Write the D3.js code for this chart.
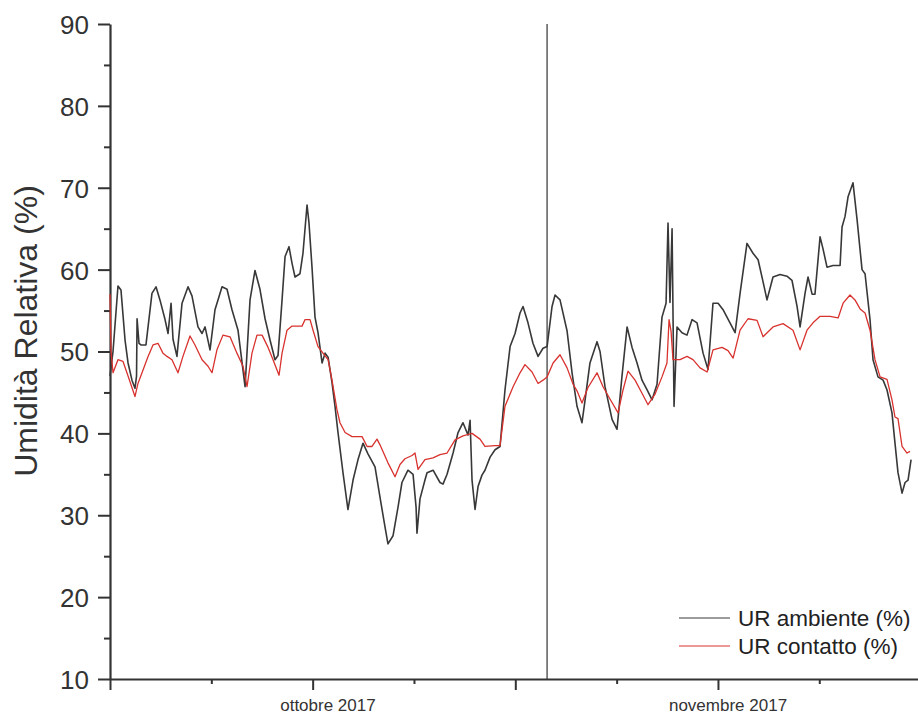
<!DOCTYPE html>
<html lang="it">
<head>
<meta charset="UTF-8">
<title>Umidità Relativa</title>
<style>
  body { margin: 0; background: #fff; }
  svg { display: block; font-family: "Liberation Sans", Arial, sans-serif; }
  .axis path, .axis line { stroke: #333; }
  .axis text { fill: #333; }
</style>
</head>
<body>
<svg width="918" height="717"></svg>
<script src="https://d3js.org/d3.v7.min.js"></script>
<script>
// x values: days since 1 Oct 2017
var ambDays = [0.00,0.23,0.61,0.84,1.15,1.38,1.68,1.91,2.03,2.07,2.22,2.37,2.75,3.21,3.52,3.82,4.21,4.44,4.67,4.82,
  5.12,5.51,5.97,6.27,6.73,7.04,7.27,7.65,8.03,8.57,8.95,9.33,9.79,10.33,10.71,11.09,11.47,11.86,12.24,12.62,
  12.85,13.16,13.39,13.69,13.92,14.15,14.53,14.76,15.07,15.22,15.45,15.68,15.91,16.22,16.45,16.68,16.98,17.21,17.44,17.82,
  18.20,18.59,18.97,19.35,19.73,20.27,20.65,21.03,21.26,21.65,22.03,22.33,22.79,23.18,23.41,23.48,23.71,24.09,24.25,24.71,
  25.24,25.47,25.78,26.24,26.62,27.00,27.38,27.54,27.69,27.92,28.15,28.45,28.68,29.07,29.45,29.83,30.21,30.60,30.98,31.36,
  31.59,31.97,32.35,32.74,33.12,33.43,33.81,34.04,34.42,34.96,35.34,35.72,36.10,36.33,36.71,37.25,37.48,37.86,38.40,38.78,
  39.16,39.55,39.93,40.31,40.69,41.08,41.46,41.84,42.22,42.53,42.68,42.83,42.99,43.14,43.37,43.75,44.13,44.52,44.90,45.36,
  45.74,46.12,46.51,46.89,47.42,47.81,48.19,48.72,49.18,49.57,49.95,50.25,50.71,51.25,51.78,52.16,52.55,52.78,53.16,53.39,
  53.70,53.92,54.31,54.54,54.84,55.30,55.84,55.99,56.22,56.45,56.83,57.14,57.52,57.75,58.13,58.36,58.74,59.13,59.43,59.81,
  60.04,60.27,60.58,60.81,61.04,61.27];
var urAmbiente = [47,50,58,57.5,51.4,48.6,46.5,45.5,47,54,51,50.8,50.8,57.1,57.9,56.3,53.9,52.2,55.9,51.5,
  49.4,55.9,57.9,56.8,53,52.2,53,50.2,55.1,57.9,57.6,55.1,52.6,45.7,56.3,59.9,57.6,54,51.4,49,
  49.5,56.3,61.6,62.8,60.8,59.1,59.5,62,67.9,65.7,60.3,54.2,52.3,48.6,49.8,49.3,46.2,43.3,40.1,35.2,
  30.7,34.3,36.8,38.8,37.5,35.9,32.2,28.6,26.5,27.5,31,34,35.5,35,31,27.8,32,34.3,35.2,35.5,
  34,33.8,35,37.6,40.1,41.3,39.8,41.6,34.3,30.7,33.5,34.9,35.5,37.1,38,38.4,45.3,50.6,52.2,54.7,
  55.5,53.5,51,49.4,50.4,50.6,55.5,56.9,56.3,52.5,47.4,43.3,41.3,44,48.6,51.2,50,45.7,41.7,40.5,
  47,53,50.5,48.6,46.5,45.3,44.1,46,54.2,55.9,65.7,56,65,43.3,53,52.3,52,53.9,53.5,49.8,
  47.8,55.9,55.9,55.1,53.5,52.3,57.1,63.2,62,61.2,58.5,56.3,59.1,59.4,59.2,58.7,55.5,53,57.1,59.1,
  57,57,64,62.5,60.3,60.5,60.5,65.2,66.5,68.9,70.6,66.1,60,59.5,53.9,49,46.9,46.5,45.3,42.5,
  38.8,35.2,32.7,34,34.3,36.8];

var conDays = [0.00,0.08,0.23,0.61,0.99,1.38,1.91,2.14,2.52,2.91,3.29,3.67,4.05,4.36,4.74,5.20,5.58,6.12,6.50,7.04,
  7.50,7.80,8.18,8.64,9.18,9.71,10.17,10.48,10.86,11.24,11.63,12.09,12.47,12.93,13.16,13.54,13.92,14.69,14.92,15.30,
  15.53,15.91,16.29,16.68,16.98,17.36,17.59,17.98,18.51,19.28,19.66,20.04,20.42,20.65,21.26,21.80,22.18,22.56,23.10,23.33,
  23.56,24.09,24.71,25.24,25.78,26.39,27.00,27.69,28.30,28.68,29.45,29.83,30.21,30.83,31.36,31.74,32.28,32.74,33.12,33.43,
  33.89,34.42,34.96,35.42,35.72,36.10,36.56,37.25,37.71,38.24,38.86,39.24,39.62,40.16,40.69,41.15,41.69,42.22,42.60,42.76,
  42.91,43.06,43.60,44.13,44.59,45.13,45.67,46.12,46.81,47.27,47.66,48.19,48.80,49.49,49.95,50.71,51.48,52.24,52.78,53.31,
  53.77,54.31,55.07,55.69,56.07,56.60,56.98,57.37,57.75,58.13,58.51,58.90,59.43,59.81,60.04,60.27,60.58,60.96,61.19];
var urContatto = [57,50,47.4,49,48.8,47,44.5,46.1,47.7,49.4,50.8,51,49.8,49.4,49,47.4,49.4,51.9,50.8,49,
  48.2,47.4,50.2,52,51.8,49.8,48.2,45.7,49.8,52,52,50.5,49,47.1,49.8,52.6,53.1,53.1,53.9,53.9,
  52.6,50.6,49.8,49,46.5,42.9,41.3,40.1,39.6,39.6,38.4,38.4,39.3,38.6,36.4,34.7,36.2,36.9,37.3,37.6,
  35.6,36.8,37,37.4,37.6,39.2,39.7,40,39.3,38.4,38.5,38.5,43.3,45.7,47.4,48.4,47.5,46.1,46.5,46.9,
  48.6,49.6,48,46,45.2,43.7,45.6,47.4,45.7,44.2,42.5,45.3,47.6,46.5,44.9,43.5,44.8,46.9,48.6,53.9,
  52.5,49,49,49.4,49,48,47.5,50.2,50.5,50.1,49.2,52.6,54,53.8,51.8,53,53.4,52.6,50.2,52.6,
  53.5,54.3,54.3,54.1,55.9,56.9,56.3,55.2,54.7,52.6,49,46.9,46.6,44.1,42,41.8,38.4,37.6,37.8];

var yTicks = [10, 20, 30, 40, 50, 60, 70, 80, 90];
var yMinor = [15, 25, 35, 45, 55, 65, 75, 85];
var xMajor = [0, 15.5, 31, 46.5];
var xMinor = [7.75, 23.25, 38.75, 54.25];
var monthLabels = ["ottobre 2017", "novembre 2017"];
var monthDays = [16.67, 47.27];
var markerDay = 33.43;
var seriesNames = ["UR ambiente (%)", "UR contatto (%)"];
var seriesColors = ["#383838", "#d8322e"];

var svg = d3.select("svg");
var x = d3.scaleLinear().domain([0, 61.8]).range([110, 918]);
var y = d3.scaleLinear().domain([10, 90]).range([679, 24]);

// y axis: minor then major
svg.append("g").attr("class", "axis").attr("transform", "translate(110,0)")
  .call(d3.axisLeft(y).tickValues(yMinor).tickSize(6).tickFormat(""))
  .call(function(g) { g.select(".domain").remove(); })
  .selectAll("line").attr("stroke-width", 2);
svg.append("g").attr("class", "axis").attr("transform", "translate(110,0)")
  .call(d3.axisLeft(y).tickValues(yTicks).tickSize(12).tickSizeOuter(0).tickPadding(9))
  .call(function(g) {
    g.select(".domain").attr("stroke-width", 2.2);
    g.selectAll("line").attr("stroke-width", 2);
    g.selectAll("text").attr("font-size", 26).attr("dy", "0.36em");
  });

// x axis
svg.append("g").attr("class", "axis").attr("transform", "translate(0,679)")
  .call(d3.axisBottom(x).tickValues(xMinor).tickSize(5).tickFormat(""))
  .call(function(g) { g.select(".domain").remove(); })
  .selectAll("line").attr("stroke-width", 2);
svg.append("g").attr("class", "axis").attr("transform", "translate(0,679)")
  .call(d3.axisBottom(x).tickValues(xMajor).tickSize(11).tickSizeOuter(0).tickFormat(""))
  .call(function(g) {
    g.select(".domain").attr("stroke-width", 2.2);
    g.selectAll("line").attr("stroke-width", 2);
  });

svg.append("g").selectAll("text")
  .data(monthLabels)
  .enter().append("text")
  .attr("x", function(d, i) { return x(monthDays[i]); })
  .attr("y", 711)
  .attr("text-anchor", "middle")
  .attr("font-size", 17)
  .attr("fill", "#333")
  .text(function(d) { return d; });

// y title
svg.append("text")
  .attr("transform", "translate(37,331) rotate(-90)")
  .attr("text-anchor", "middle")
  .attr("font-size", 32)
  .attr("fill", "#333")
  .text("Umidità Relativa (%)");

// vertical marker
svg.append("line")
  .attr("x1", x(markerDay)).attr("x2", x(markerDay))
  .attr("y1", y(90)).attr("y2", y(10))
  .attr("stroke", "#333").attr("stroke-width", 1.2);

var line = d3.line()
  .x(function(d) { return x(d[0]); })
  .y(function(d) { return y(d[1]); });

var amb = ambDays.map(function(d, i) { return [d, urAmbiente[i]]; });
var con = conDays.map(function(d, i) { return [d, urContatto[i]]; });

svg.append("path").datum(amb)
  .attr("d", line).attr("fill", "none")
  .attr("stroke", seriesColors[0]).attr("stroke-width", 1.6)
  .attr("stroke-linejoin", "round");
svg.append("path").datum(con)
  .attr("d", line).attr("fill", "none")
  .attr("stroke", seriesColors[1]).attr("stroke-width", 1.3)
  .attr("stroke-linejoin", "round");

// legend
var leg = svg.append("g").selectAll("g")
  .data(seriesNames)
  .enter().append("g")
  .attr("transform", function(d, i) { return "translate(679," + (618 + i * 28) + ")"; });
leg.append("line")
  .attr("x1", 0).attr("x2", 51)
  .attr("stroke", function(d, i) { return seriesColors[i]; })
  .attr("stroke-width", 1);
leg.append("text")
  .attr("x", 59).attr("y", 8)
  .attr("font-size", 22.5)
  .attr("fill", "#222")
  .text(function(d) { return d; });
</script>
</body>
</html>
